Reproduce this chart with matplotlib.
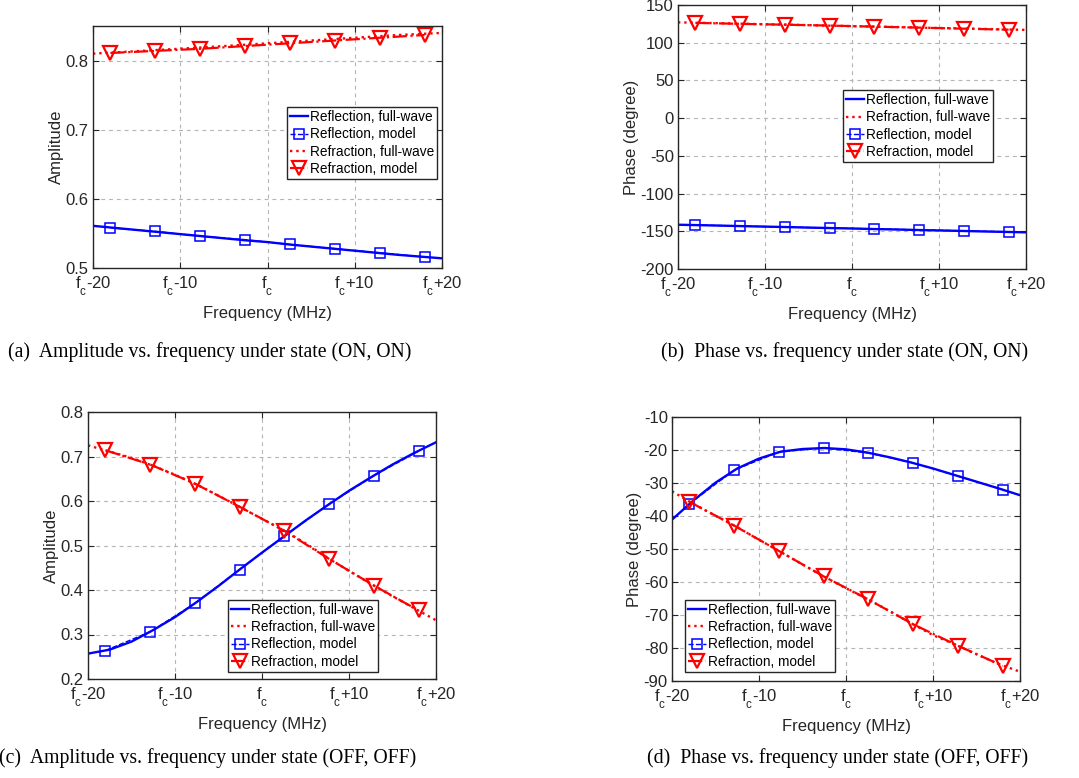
import numpy as np
import matplotlib
matplotlib.use("Agg")
import matplotlib.pyplot as plt
try:
    import matplotlib._mathtext as _mt
    _mt.FontConstantsBase.sub1 = 0.8
    _mt.FontConstantsBase.sub2 = 0.8
except Exception:
    pass

plt.rcParams['font.family'] = ['Liberation Sans', 'DejaVu Sans']
plt.rcParams['mathtext.default'] = 'regular'
plt.rcParams['axes.unicode_minus'] = False

# ---------------- data ----------------
freq_model = [-18.0, -12.86, -7.71, -2.57, 2.57, 7.71, 12.86, 18.0]
freq_fw = [-20, -17.5, -15, -12.5, -10, -7.5, -5, -2.5, 0, 2.5, 5, 7.5, 10, 12.5, 15, 17.5, 20]

# (a) amplitude, (ON, ON)
a_refl_fw = [0.561, 0.558, 0.555, 0.552, 0.549, 0.546, 0.543, 0.540, 0.5375, 0.534,
             0.531, 0.528, 0.525, 0.522, 0.519, 0.5165, 0.514]
a_refr_fw = [0.810, 0.8118, 0.8136, 0.8154, 0.8172, 0.819, 0.821, 0.823, 0.825, 0.827,
             0.829, 0.831, 0.833, 0.835, 0.837, 0.8385, 0.840]
a_refl_model = [0.558, 0.553, 0.546, 0.541, 0.534, 0.528, 0.522, 0.516]
a_refr_model = [0.811, 0.814, 0.817, 0.821, 0.825, 0.829, 0.833, 0.837]

# (b) phase, (ON, ON)
b_refl_fw = [-141.3, -141.9, -142.5, -143.2, -143.8, -144.4, -145.1, -145.7, -146.3,
             -147.0, -147.6, -148.3, -148.9, -149.5, -150.2, -150.8, -151.4]
b_refr_fw = [127.0, 126.4, 125.8, 125.1, 124.5, 123.9, 123.3, 122.6, 122.0, 121.4,
             120.8, 120.1, 119.5, 118.9, 118.3, 117.6, 117.0]
b_refl_model = [-141.7, -143.0, -144.4, -145.6, -146.8, -148.1, -149.4, -150.7]
b_refr_model = [126.3, 125.0, 123.9, 122.7, 121.3, 120.0, 118.6, 117.3]

# (c) amplitude, (OFF, OFF)
c_refl_fw = [0.257, 0.266, 0.284, 0.310, 0.339, 0.373, 0.409, 0.447, 0.484, 0.520,
             0.556, 0.590, 0.623, 0.653, 0.682, 0.708, 0.732]
c_refr_fw = [0.725, 0.711, 0.697, 0.679, 0.659, 0.637, 0.612, 0.586, 0.560, 0.534,
             0.505, 0.473, 0.443, 0.414, 0.386, 0.359, 0.332]
c_refl_model = [0.264, 0.306, 0.370, 0.446, 0.521, 0.593, 0.657, 0.712]
c_refr_model = [0.714, 0.682, 0.639, 0.587, 0.533, 0.470, 0.410, 0.354]

# (d) phase, (OFF, OFF)
d_refl_fw = [-41.1, -35.2, -29.9, -25.6, -22.6, -20.5, -19.7, -19.4, -19.8, -20.8,
             -22.2, -23.8, -25.6, -27.6, -29.6, -31.6, -33.7]
d_refr_fw = [-32.5, -36.4, -39.9, -43.4, -47.2, -50.9, -54.7, -58.4, -61.9, -65.2,
             -68.8, -72.5, -76.1, -78.9, -81.9, -84.8, -87.2]
d_refl_model = [-36.3, -26.1, -20.6, -19.4, -20.9, -23.9, -27.9, -32.0]
d_refr_model = [-35.7, -42.9, -50.6, -58.3, -65.3, -72.8, -79.3, -85.4]

x_ticks = [-20, -10, 0, 10, 20]
x_ticklabels = ['f$_c$-20', 'f$_c$-10', 'f$_c$', 'f$_c$+10', 'f$_c$+20']

captions = ['(a)  Amplitude vs. frequency under state (ON, ON)',
            '(b)  Phase vs. frequency under state (ON, ON)',
            '(c)  Amplitude vs. frequency under state (OFF, OFF)',
            '(d)  Phase vs. frequency under state (OFF, OFF)']

# ---------------- figure ----------------
W, H = 1079, 778
fig = plt.figure(figsize=(W / 100, H / 100), dpi=100)

BLUE = '#0000ff'
RED = '#ff0000'
DARK = '#262626'


def px_axes(l, r, t, b):
    return fig.add_axes([l / W, (H - b) / H, (r - l) / W, (b - t) / H])


def panel(ax, refl_fw, refr_fw, refl_m, refr_m, ylim, yticks, ylabel, order, leg_anchor):
    h1, = ax.plot(freq_fw, refl_fw, '-', color=BLUE, lw=1.7, label='Reflection, full-wave')
    h2, = ax.plot(freq_fw, refr_fw, ':', color=RED, lw=1.7, label='Refraction, full-wave')
    h3, = ax.plot(freq_model, refl_m, '--', color=BLUE, lw=1.0, marker='s', ms=7.5,
                  mfc='none', mec=BLUE, mew=1.1, label='Reflection, model')
    h4, = ax.plot(freq_model, refr_m, '-.', color=RED, lw=1.6, marker='v', ms=9.5,
                  mfc='none', mec=RED, mew=1.6, label='Refraction, model')
    ax.set_xlim(-20, 20)
    ax.set_ylim(*ylim)
    ax.set_xticks(x_ticks)
    ax.set_xticklabels(x_ticklabels)
    ax.set_yticks(yticks)
    ax.grid(True, ls=(0, (3.5, 3.5)), color='#b5b5b5', lw=0.8)
    ax.set_axisbelow(True)
    ax.tick_params(direction='in', top=True, right=True, length=4, width=0.8,
                   labelsize=12, colors=DARK, labelcolor=DARK)
    ax.tick_params(axis='x', pad=5)
    ax.tick_params(axis='y', pad=3)
    for s in ax.spines.values():
        s.set_color(DARK)
        s.set_linewidth(1.0)
    ax.set_xlabel('Frequency (MHz)', fontsize=12, color=DARK, labelpad=6)
    ax.set_ylabel(ylabel, fontsize=12, color=DARK, labelpad=1)
    handles = {'rfw': h1, 'tfw': h2, 'rm': h3, 'tm': h4}
    hs = [handles[k] for k in order]
    leg = ax.legend(handles=hs, loc='upper left', bbox_to_anchor=leg_anchor,
                    borderaxespad=0, fontsize=9.8, frameon=True, fancybox=False,
                    framealpha=1, edgecolor=DARK, handlelength=1.3,
                    handletextpad=0.15, labelspacing=0.24, borderpad=0.22,
                    markerscale=1.0)
    leg.get_frame().set_linewidth(1.0)
    for t in leg.get_texts():
        t.set_color('black')


ax_a = px_axes(93, 442, 26, 268)
panel(ax_a, a_refl_fw, a_refr_fw, a_refl_model, a_refr_model, (0.5, 0.85),
      [0.5, 0.6, 0.7, 0.8], 'Amplitude', ['rfw', 'rm', 'tfw', 'tm'], (0.556, 0.665))

ax_b = px_axes(678, 1026, 5, 269)
panel(ax_b, b_refl_fw, b_refr_fw, b_refl_model, b_refr_model, (-200, 150),
      list(range(-200, 151, 50)), 'Phase (degree)', ['rfw', 'tfw', 'rm', 'tm'], (0.474, 0.678))

ax_c = px_axes(88, 436, 412, 679)
panel(ax_c, c_refl_fw, c_refr_fw, c_refl_model, c_refr_model, (0.2, 0.8),
      [0.2, 0.3, 0.4, 0.5, 0.6, 0.7, 0.8], 'Amplitude', ['rfw', 'tfw', 'rm', 'tm'], (0.402, 0.296))

ax_d = px_axes(672, 1020, 417, 681)
panel(ax_d, d_refl_fw, d_refr_fw, d_refl_model, d_refr_model, (-90, -10),
      list(range(-90, -9, 10)), 'Phase (degree)', ['rfw', 'tfw', 'rm', 'tm'], (0.037, 0.307))

cap_pos = [(210, 352), (845, 352), (208, 758), (838, 758)]
for (cx, cy), txt in zip(cap_pos, captions):
    fig.text(cx / W, (H - cy) / H, txt, ha='center', va='center',
             fontsize=14.2, family=['Liberation Serif', 'DejaVu Serif'], color='black')

fig.savefig('out.png', dpi=100)
